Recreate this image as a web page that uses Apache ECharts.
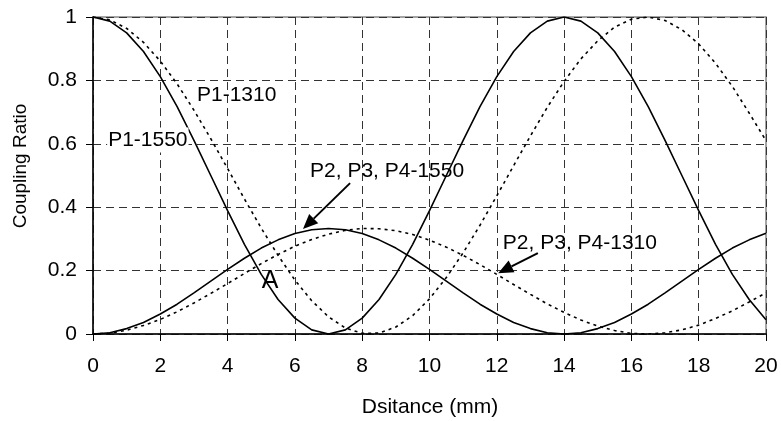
<!DOCTYPE html>
<html>
<head>
<meta charset="utf-8">
<script src="https://cdn.jsdelivr.net/npm/echarts@6/dist/echarts.min.js"></script>
<style>
html,body{margin:0;padding:0;background:#fff;}
#chart{width:781px;height:421px;}
</style>
</head>
<body>
<div id="chart"></div>
<script>
// Distance (mm)
const distance = [0,0.5,1,1.5,2,2.5,3,3.5,4,4.5,5,5.5,6,6.5,7,7.5,8,8.5,9,9.5,10,10.5,11,11.5,12,12.5,13,13.5,14,14.5,15,15.5,16,16.5,17,17.5,18,18.5,19,19.5,20];
// P1-1550 (solid)
const p1_1550 = [1.000,0.987,0.950,0.891,0.812,0.717,0.611,0.500,0.389,0.283,0.188,0.109,0.050,0.013,0.000,0.013,0.050,0.109,0.188,0.283,0.389,0.500,0.611,0.717,0.812,0.891,0.950,0.987,1.000,0.987,0.950,0.891,0.812,0.717,0.611,0.500,0.389,0.283,0.188,0.109,0.045];
// P2, P3, P4-1550 (solid)
const p234_1550 = [0.000,0.004,0.017,0.036,0.063,0.094,0.130,0.167,0.204,0.239,0.271,0.297,0.317,0.329,0.333,0.329,0.317,0.297,0.271,0.239,0.204,0.167,0.130,0.094,0.063,0.036,0.017,0.004,0.000,0.004,0.017,0.036,0.063,0.094,0.130,0.167,0.204,0.239,0.271,0.297,0.318];
// P1-1310 (dotted)
const p1_1310 = [1.000,0.991,0.964,0.920,0.861,0.789,0.706,0.616,0.522,0.426,0.334,0.248,0.170,0.105,0.054,0.019,0.002,0.003,0.022,0.058,0.111,0.178,0.256,0.343,0.436,0.531,0.625,0.715,0.797,0.868,0.925,0.968,0.993,1.000,0.989,0.960,0.915,0.854,0.781,0.697,0.610];
// P2, P3, P4-1310 (dotted)
const p234_1310 = [0.000,0.003,0.012,0.027,0.046,0.070,0.098,0.128,0.159,0.191,0.222,0.251,0.277,0.298,0.315,0.327,0.333,0.332,0.326,0.314,0.296,0.274,0.248,0.219,0.188,0.156,0.125,0.095,0.068,0.044,0.025,0.011,0.002,0.000,0.004,0.013,0.028,0.049,0.073,0.101,0.130];

const xTicks = [0,2,4,6,8,10,12,14,16,18,20];
const yTicks = [0,0.2,0.4,0.6,0.8,1];

const FONT = "'Liberation Sans', Arial, sans-serif";

function pairs(ys){ return distance.map((x,i)=>[x, ys[i]]); }

const chart = echarts.init(document.getElementById('chart'), null, {renderer:'canvas'});

const solid = {color:'#000', width:1.6, type:'solid'};
const dotted = {color:'#000', width:1.6, type:[3,4]};

function mkSeries(name, ys, style){
  return {
    name, type:'line', data:pairs(ys), showSymbol:false, symbol:'none',
    smooth:false, lineStyle:style, z:3, animation:false, silent:true
  };
}

chart.setOption({
  animation:false,
  backgroundColor:'#fff',
  grid:{left:93, right:15, top:17, bottom:87, show:true, borderColor:'#888', borderWidth:1.5, backgroundColor:'transparent'},
  xAxis:{
    type:'value', min:0, max:20, interval:2,
    axisLine:{show:true, onZero:false, lineStyle:{color:'#000', width:1.5}},
    axisTick:{show:true, inside:false, length:7, lineStyle:{color:'#000', width:1}},
    axisLabel:{fontFamily:FONT, fontSize:21, color:'#000', margin:22,
      formatter:v=> xTicks.indexOf(v)>=0 ? String(v) : ''},
    splitLine:{show:true, lineStyle:{color:'#333', width:1, type:[8,5]}}
  },
  yAxis:{
    type:'value', min:0, max:1, interval:0.2,
    axisLine:{show:true, onZero:false, lineStyle:{color:'#000', width:1.5}},
    axisTick:{show:true, inside:false, length:7, lineStyle:{color:'#000', width:1}},
    axisLabel:{fontFamily:FONT, fontSize:21, color:'#000', margin:16,
      formatter:v=>{ const t = yTicks.find(k=>Math.abs(k-v)<1e-9); return t===undefined ? '' : String(t); }},
    splitLine:{show:true, lineStyle:{color:'#333', width:1, type:[8,5]}}
  },
  series:[
    mkSeries('P1-1550', p1_1550, solid),
    mkSeries('P2, P3, P4-1550', p234_1550, solid),
    mkSeries('P1-1310', p1_1310, dotted),
    mkSeries('P2, P3, P4-1310', p234_1310, dotted)
  ]
});

// Annotations (data coordinates)
const notes = [
  {text:'P1-1310', at:[3.09,0.754], align:'left', size:21},
  {text:'P1-1550', at:[0.42,0.612], align:'left', size:21, bg:'#fff'},
  {text:'P2, P3, P4-1550', at:[6.45,0.515], align:'left', size:21},
  {text:'P2, P3, P4-1310', at:[12.18,0.288], align:'left', size:21},
  {text:'A', at:[5.26,0.168], align:'center', size:25}
];
const arrows = [
  {from:[7.64,0.476], to:[6.24,0.331]},
  {from:[13.22,0.255], to:[12.04,0.192]}
];

const graphics = [];
notes.forEach(n=>{
  const p = chart.convertToPixel({gridIndex:0}, n.at);
  graphics.push({
    type:'text', x:p[0], y:p[1], z:10, silent:true,
    style:{text:n.text, fill:'#000', font: n.size+'px '+FONT, align:n.align, verticalAlign:'middle',
      backgroundColor:n.bg||null, padding:n.bg?[2,1,2,1]:0}
  });
});
arrows.forEach(a=>{
  const s = chart.convertToPixel({gridIndex:0}, a.from);
  const t = chart.convertToPixel({gridIndex:0}, a.to);
  const dx=t[0]-s[0], dy=t[1]-s[1], L=Math.hypot(dx,dy), ux=dx/L, uy=dy/L;
  const hl=15, hw=6.5;
  const bx=t[0]-ux*hl, by=t[1]-uy*hl;
  graphics.push({type:'polyline', z:10, silent:true, shape:{points:[s,[bx,by]]}, style:{stroke:'#000', lineWidth:2, fill:null}});
  graphics.push({type:'polygon', z:10, silent:true, shape:{points:[t,[bx-uy*hw,by+ux*hw],[bx+uy*hw,by-ux*hw]]}, style:{fill:'#000', stroke:null}});
});
// Axis titles
graphics.push({type:'text', x:21, y:166, rotation:Math.PI/2, silent:true,
  style:{text:'Coupling Ratio', fill:'#000', font:'19px '+FONT, align:'center', verticalAlign:'middle'}});
graphics.push({type:'text', x:430, y:407, silent:true,
  style:{text:'Dsitance (mm)', fill:'#000', font:'21px '+FONT, align:'center', verticalAlign:'middle'}});

chart.setOption({graphic:graphics});
</script>
</body>
</html>
